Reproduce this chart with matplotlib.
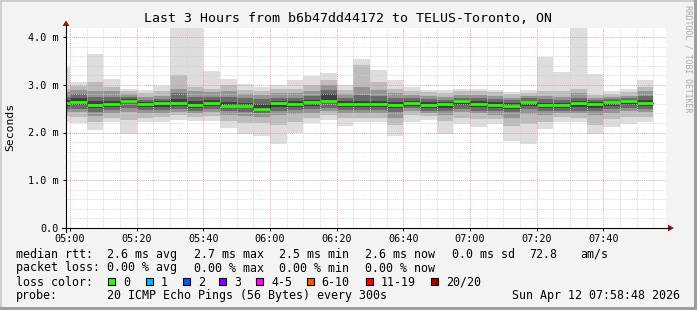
import matplotlib
matplotlib.use("Agg")
import matplotlib.pyplot as plt
import numpy as np
import pandas as pd
from matplotlib.patches import Rectangle, Polygon
from matplotlib.lines import Line2D

W, H = 697, 310
FONT = "DejaVu Sans Mono"
plt.rcParams["font.family"] = FONT

# 5 min steps, bar start times (04:55 .. 07:50)
times = pd.date_range("2026-04-12 04:55", periods=36, freq="5min")

# sorted ping rtt (ms) per step
p1 = [2.23, 2.19, 2.05, 2.23, 1.96, 2.21, 2.23, 2.26, 2.24, 2.24, 2.10, 1.96,
      1.93, 1.76, 2.00, 2.19, 2.26, 2.14, 2.21, 2.21, 1.93, 2.23, 2.26, 1.96,
      2.17, 2.12, 2.17, 1.83, 1.76, 2.07, 2.23, 2.21, 1.96, 2.12, 2.17, 2.23]
p3 = [2.34, 2.33, 2.23, 2.31, 2.27, 2.31, 2.32, 2.36, 2.32, 2.34, 2.25, 2.20,
      2.20, 2.16, 2.23, 2.30, 2.37, 2.30, 2.31, 2.30, 2.16, 2.36, 2.34, 2.25,
      2.31, 2.28, 2.28, 2.13, 2.17, 2.23, 2.32, 2.31, 2.16, 2.28, 2.33, 2.33]
p5 = [2.43, 2.43, 2.34, 2.40, 2.43, 2.40, 2.40, 2.43, 2.40, 2.43, 2.36, 2.34,
      2.33, 2.36, 2.38, 2.41, 2.45, 2.40, 2.40, 2.40, 2.31, 2.44, 2.41, 2.37,
      2.43, 2.40, 2.37, 2.31, 2.38, 2.36, 2.40, 2.40, 2.36, 2.41, 2.44, 2.43]
p7 = [2.49, 2.49, 2.43, 2.47, 2.52, 2.47, 2.47, 2.49, 2.45, 2.49, 2.44, 2.43,
      2.41, 2.45, 2.47, 2.49, 2.52, 2.47, 2.47, 2.47, 2.43, 2.51, 2.46, 2.45,
      2.49, 2.46, 2.44, 2.43, 2.49, 2.44, 2.45, 2.46, 2.45, 2.49, 2.51, 2.49]
p9 = [2.56, 2.58, 2.51, 2.54, 2.61, 2.54, 2.54, 2.56, 2.52, 2.56, 2.51, 2.51,
      2.48, 2.54, 2.54, 2.56, 2.61, 2.54, 2.54, 2.54, 2.51, 2.56, 2.52, 2.52,
      2.58, 2.53, 2.51, 2.50, 2.56, 2.51, 2.51, 2.53, 2.52, 2.56, 2.58, 2.56]
p12 = [2.68, 2.72, 2.66, 2.66, 2.70, 2.64, 2.65, 2.70, 2.65, 2.68, 2.64, 2.62,
       2.60, 2.66, 2.65, 2.68, 2.80, 2.65, 2.66, 2.66, 2.64, 2.66, 2.64, 2.64,
       2.68, 2.65, 2.64, 2.61, 2.66, 2.62, 2.61, 2.65, 2.64, 2.66, 2.68, 2.68]
p14 = [2.75, 2.80, 2.75, 2.75, 2.75, 2.68, 2.70, 2.82, 2.75, 2.75, 2.75, 2.72,
       2.70, 2.73, 2.73, 2.77, 2.89, 2.72, 2.78, 2.77, 2.73, 2.72, 2.70, 2.68,
       2.73, 2.72, 2.70, 2.68, 2.72, 2.70, 2.68, 2.73, 2.68, 2.70, 2.73, 2.77]
p16 = [2.84, 2.89, 2.86, 2.86, 2.81, 2.75, 2.77, 2.92, 2.86, 2.84, 2.86, 2.80,
       2.78, 2.82, 2.82, 2.86, 3.00, 2.80, 2.96, 2.89, 2.82, 2.78, 2.77, 2.75,
       2.78, 2.78, 2.77, 2.73, 2.77, 2.77, 2.75, 2.82, 2.73, 2.75, 2.77, 2.86]
p18 = [2.92, 2.98, 3.06, 2.96, 2.87, 2.82, 2.86, 3.20, 2.96, 2.92, 3.00, 2.89,
       2.87, 2.91, 2.92, 3.00, 3.10, 2.89, 3.41, 3.05, 2.92, 2.86, 2.84, 2.82,
       2.86, 2.86, 2.84, 2.80, 2.82, 2.86, 2.86, 2.92, 2.78, 2.80, 2.84, 2.96]
p20 = [3.38, 3.06, 3.64, 3.12, 2.92, 2.89, 2.97, 4.40, 4.40, 3.29, 3.12, 3.01,
       2.95, 3.00, 3.10, 3.19, 3.25, 3.00, 3.54, 3.31, 3.10, 2.95, 2.90, 2.88,
       2.92, 2.91, 2.90, 2.84, 2.89, 3.59, 3.27, 4.40, 3.22, 2.87, 2.91, 3.10]
median = [2.62, 2.64, 2.58, 2.60, 2.66, 2.59, 2.62, 2.62, 2.58, 2.62, 2.56, 2.56,
          2.49, 2.62, 2.60, 2.64, 2.66, 2.60, 2.60, 2.60, 2.58, 2.62, 2.58, 2.60,
          2.66, 2.60, 2.58, 2.56, 2.64, 2.58, 2.58, 2.62, 2.60, 2.64, 2.66, 2.62]

loss_labels = ["0", "1", "2", "3", "4-5", "6-10", "11-19", "20/20"]
loss_colors = ["#26ff00", "#00b8ff", "#0059ff", "#7e00ff", "#ff00ff",
               "#ff5500", "#ff0000", "#a10000"]


def fx(x):
    return x / W


def fy(y):
    return 1 - y / H


fig = plt.figure(figsize=(W / 100, H / 100), dpi=100, facecolor="#f3f3f3")
ax = fig.add_axes([fx(66), fy(228), 600 / W, 200 / H])
ax.set_facecolor("white")

t0 = pd.Timestamp("2026-04-12 05:00")
x = np.array([(t - t0).total_seconds() / 60 for t in times])

# smoke layers, outer (light) to inner (dark)
layers = [(p1, p20, "#dddddd"), (p3, p18, "#bcbcbc"), (p5, p16, "#949494"),
          (p7, p14, "#6a6a6a"), (p9, p12, "#404040")]
for lo, hi, col in layers:
    lo = np.array(lo)
    hi = np.array(hi)
    ax.bar(x, hi - lo, bottom=lo, width=5, align="edge", color=col,
           linewidth=0, antialiased=False, zorder=1)

med = np.array(median)
ax.step(np.append(x, x[-1] + 5), np.append(med, med[-1]), where="post",
        color="#202020", lw=0.8, zorder=3)
ax.hlines(med, x, x + 5, color="#26ff00", lw=2.0, zorder=4)

ax.set_xlim(-1.2, 178.8)
ax.set_ylim(0, 200 / 47.75)

ax.set_xticks(np.arange(0, 161, 20))
ax.set_xticklabels([(t0 + pd.Timedelta(minutes=int(m))).strftime("%H:%M")
                    for m in np.arange(0, 161, 20)])
ax.set_xticks(np.arange(0, 176, 5), minor=True)
ax.set_yticks([0, 1, 2, 3, 4])
ax.set_yticklabels(["0.0", "1.0 m", "2.0 m", "3.0 m", "4.0 m"])
ax.set_yticks(np.arange(0, 4.19, 0.2), minor=True)

ax.set_axisbelow(False)
ax.grid(which="minor", color="#d0d0d0", linestyle=(0, (0.8, 1.2)), lw=0.7)
ax.grid(which="major", color="#f08c8c", linestyle=(0, (0.8, 1.2)), lw=0.7)
for gl in ax.get_xgridlines() + ax.get_ygridlines():
    gl.set_zorder(2)

ax.tick_params(which="major", length=2, width=0.75, labelsize=7.3, pad=2.5,
               colors="#000000")
ax.tick_params(axis="y", which="major", pad=3.5)
ax.tick_params(which="minor", length=0)
for s in ax.spines.values():
    s.set_visible(False)

# axes with arrows
fig.add_artist(Line2D([fx(62), fx(669)], [fy(228), fy(228)], color="black", lw=0.8))
fig.add_artist(Line2D([fx(66), fx(66)], [fy(232), fy(25)], color="black", lw=0.8))
fig.add_artist(Polygon([(fx(668), fy(224.5)), (fx(668), fy(231.5)), (fx(674), fy(228))],
                       closed=True, color="#8b1a1a", lw=0))
fig.add_artist(Polygon([(fx(62.5), fy(26)), (fx(69.5), fy(26)), (fx(66), fy(20.5))],
                       closed=True, color="#8b1a1a", lw=0))

fig.text(fx(348), fy(19), "Last 3 Hours from b6b47dd44172 to TELUS-Toronto, ON",
         ha="center", va="center", fontsize=9.5)
fig.text(fx(10), fy(127), "Seconds", rotation=90, ha="center", va="center", fontsize=8.2)
fig.text(fx(688), fy(59), "RRDTOOL / TOBI OETIKER", rotation=270, ha="center",
         va="center", fontsize=5.9, color="#a8a8a8")

fs = 8.4
rows = [
    (254.3, [(16, "median rtt:"), (107.3, "2.6 ms avg"), (193.7, "2.7 ms max"),
             (279.3, "2.5 ms min"), (365, "2.6 ms now"), (451.7, "0.0 ms sd"),
             (529, "72.8"), (580, "am/s")]),
    (268, [(16, "packet loss:"), (107.3, "0.00 % avg"), (193.7, "0.00 % max"),
           (279.3, "0.00 % min"), (365, "0.00 % now")]),
    (282.3, [(16, "loss color:")]),
    (296, [(16, "probe:"), (107.3, "20 ICMP Echo Pings (56 Bytes) every 300s")]),
]
for yy, items in rows:
    for xx, s in items:
        fig.text(fx(xx), fy(yy), s, ha="left", va="center", fontsize=fs)
fig.text(fx(680.5), fy(296), "Sun Apr 12 07:58:48 2026", ha="right", va="center",
         fontsize=fs)

box_x = [108.3, 145.7, 182.7, 219.3, 256, 306.7, 365.7, 430.7]
for bx, lab, col in zip(box_x, loss_labels, loss_colors):
    fig.add_artist(Rectangle((fx(bx), fy(285)), 7 / W, 7 / H, facecolor=col,
                             edgecolor="black", lw=0.8))
    fig.text(fx(bx + 15), fy(282.3), lab, ha="left", va="center", fontsize=fs)

# frame shading
fig.add_artist(Rectangle((0, fy(2)), 1, 2 / H, color="#cfcfcf", lw=0))
fig.add_artist(Rectangle((0, 0), 2 / W, 1, color="#cfcfcf", lw=0))
fig.add_artist(Rectangle((0, 0), 1, 3 / H, color="#9e9e9e", lw=0))
fig.add_artist(Rectangle((fx(694), 0), 3 / W, 1, color="#9e9e9e", lw=0))

fig.savefig("out.png", dpi=100, facecolor=fig.get_facecolor())
